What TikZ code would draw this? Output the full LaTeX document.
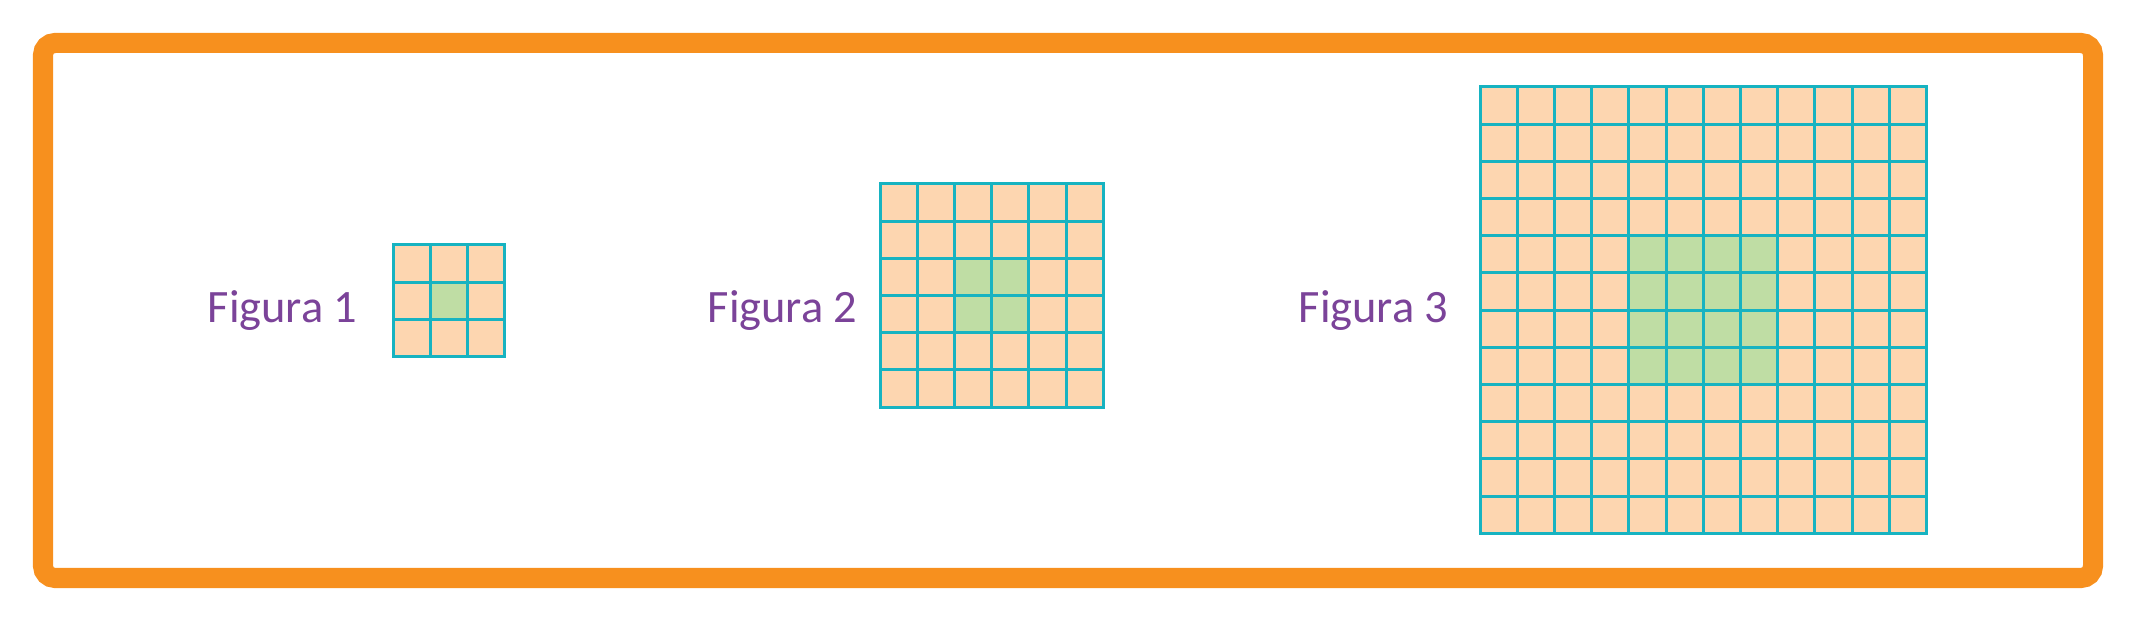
\documentclass[tikz,border=0pt]{standalone}
\usepackage{fontspec}
\setmainfont{Carlito}
\usetikzlibrary{positioning}

\definecolor{frameorange}{HTML}{F7901E}
\definecolor{cellpeach}{HTML}{FDD6B0}
\definecolor{cellgreen}{HTML}{BFDDA4}
\definecolor{gridteal}{HTML}{17B3C1}
\definecolor{labelpurple}{HTML}{7B4399}

\begin{document}
\begin{tikzpicture}[
    x=0.01cm, y=-0.01cm,
    frame/.style={
        draw=frameorange,
        line width=0.2cm,
        rounded corners=0.12cm
    },
    gridline/.style={
        draw=gridteal,
        line width=0.03cm,
        line cap=rect
    },
    figlabel/.style={
        text=labelpurple,
        font=\fontsize{13.2}{15}\selectfont,
        inner sep=0pt,
        anchor=base west
    }
]

\useasboundingbox (0,0) rectangle (2137,622);

\draw[frame] (43,43) rectangle (2093,578);

% size / left / top / label x / number
\foreach \n/\gx/\gy/\lx/\t in {3/393/245/207/1, 6/880/184/707/2, 12/1480/87/1298/3} {
    \pgfmathsetmacro{\side}{\n*37.2}
    \pgfmathsetmacro{\k}{\n/3*37.2}
    \fill[cellpeach] (\gx,\gy) rectangle ++(\side,\side);
    \fill[cellgreen] (\gx+\k,\gy+\k) rectangle ++(\k,\k);
    \foreach \i in {0,...,\n} {
        \draw[gridline] (\gx+\i*37.2,\gy) -- ++(0,\side);
        \draw[gridline] (\gx,\gy+\i*37.2) -- ++(\side,0);
    }
    \node[figlabel] (fig\t) at (\lx,323) {Figura \t};
}

\end{tikzpicture}
\end{document}
